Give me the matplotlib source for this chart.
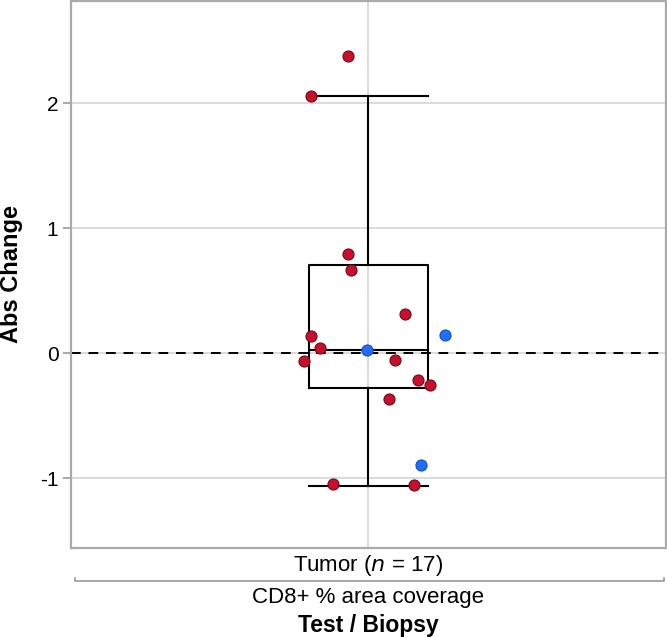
import matplotlib.pyplot as plt
from matplotlib.lines import Line2D

plt.rcParams['font.family'] = ['Liberation Sans', 'DejaVu Sans']

# point values
abs_change = [2.38, 2.06, 0.796, 0.666, 0.315, 0.144, 0.134, 0.04, 0.027,
              -0.064, -0.054, -0.217, -0.257, -0.369, -0.896, -1.048, -1.056]
jitter = [-0.034, -0.097, -0.034, -0.030, 0.061, 0.129, -0.097, -0.082, -0.002,
          -0.109, 0.045, 0.084, 0.103, 0.035, 0.089, -0.059, 0.077]
group = ['r', 'r', 'r', 'r', 'r', 'b', 'r', 'r', 'b',
         'r', 'r', 'r', 'r', 'r', 'b', 'r', 'r']

# box summary as drawn
box_stats = {'med': 0.027, 'q1': -0.283, 'q3': 0.706,
             'whislo': -1.064, 'whishi': 2.06, 'fliers': []}

category = 'Tumor ($\\it{n}$ = 17)'
measure = 'CD8+ % area coverage'
x_title = 'Test / Biopsy'
y_title = 'Abs Change'
yticks = [-1, 0, 1, 2]

fill = {'r': '#c8102e', 'b': '#1f6fff'}
edge = {'r': '#7a0d1a', 'b': '#1a50c8'}

fig = plt.figure(figsize=(6.67, 6.37), dpi=100)
ax = fig.add_axes([0.1064, 0.1397, 0.892, 0.859])

ax.set_xlim(-0.5, 0.5)
ax.set_ylim(-1.56, 2.82)
ax.set_yticks(yticks)
ax.set_yticklabels([str(t) for t in yticks], fontsize=15)
ax.set_xticks([0])
ax.set_xticklabels([''])
ax.tick_params(axis='y', length=6, width=1.2, color='#999999', pad=3)
ax.tick_params(axis='x', length=0)
ax.grid(True, color='#d4d4d4', lw=1.2)
ax.set_axisbelow(True)
for s in ax.spines.values():
    s.set_color('#aaaaaa')
    s.set_linewidth(1.6)

ax.axhline(0, color='black', lw=1.4, ls=(0, (5, 4)), zorder=2)

ax.bxp([box_stats], positions=[0], widths=0.2, showfliers=False,
       boxprops=dict(color='black', lw=1.5),
       medianprops=dict(color='black', lw=1.5),
       whiskerprops=dict(color='black', lw=1.5),
       capprops=dict(color='black', lw=1.5), capwidths=0.2,
       manage_ticks=False, zorder=3)

for x, y, g in zip(jitter, abs_change, group):
    ax.scatter(x, y, s=62, color=fill[g], edgecolor=edge[g], lw=0.9, zorder=4)

# axis titles and labels under the axis
cx = 0.1064 + 0.892 / 2
fig.text(12 / 667, 1 - 274 / 637, y_title, rotation=90, ha='center', va='center',
         fontsize=17, fontweight='bold')
fig.text(cx, 1 - 571 / 637, category, ha='center', va='baseline', fontsize=16)
yb = 1 - 581 / 637
fig.add_artist(Line2D([75 / 667, 75 / 667, 664 / 667, 664 / 667],
                      [yb + 0.005, yb, yb, yb + 0.005],
                      color='#999999', lw=1.2))
fig.text(cx, 1 - 603 / 637, measure, ha='center', va='baseline', fontsize=16)
fig.text(cx, 1 - 632 / 637, x_title, ha='center', va='baseline', fontsize=16.5,
         fontweight='bold')

fig.savefig('out.png', dpi=100)
